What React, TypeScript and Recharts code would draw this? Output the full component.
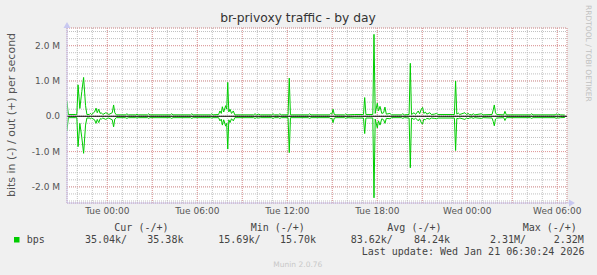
import { ComposedChart, Line, XAxis, YAxis, CartesianGrid, ReferenceLine } from 'recharts'

// ── Data (hours relative to Tue 00:00, values in Mbit/s) ─────────────────────

const hours = [
  -2.69, -2.6, -2.1, -2.03, -1.95, -1.83, -1.7, -1.58, -1.45, -1.36,
  -1.2, -1.13, -1.05, -0.85, -0.75, -0.67, -0.57, -0.48, -0.4, -0.3,
  -0.1, 0.0, 0.1, 0.33, 0.42, 0.5, 0.6, 1.2, 1.31, 1.4,
  1.9, 1.98, 2.06, 2.68, 2.76, 2.84, 4.2, 4.29, 4.38, 5.55,
  5.63, 5.72, 6.88, 6.96, 7.05, 7.42, 7.51, 7.6, 7.67, 7.76,
  7.89, 7.96, 8.03, 8.1, 8.18, 8.28, 8.4, 8.5, 9.75, 9.85,
  9.95, 10.1, 10.2, 10.95, 11.05, 11.15, 11.42, 11.5, 11.6, 12.05,
  12.13, 12.21, 13.4, 13.49, 13.58, 14.8, 14.9, 14.97, 15.05, 15.13,
  15.25, 15.82, 15.9, 15.98, 16.5, 17.08, 17.16, 17.24, 17.7, 17.78,
  17.86, 18.0, 18.08, 18.18, 18.3, 18.42, 18.51, 18.6, 18.84, 18.95,
  19.6, 19.7, 19.8, 20.12, 20.2, 20.28, 20.45, 20.55, 20.73, 20.82,
  20.95, 21.02, 21.1, 21.2, 21.3, 21.5, 21.6, 21.8, 21.95, 22.05,
  23.14, 23.22, 23.3, 23.4, 23.5, 23.84, 23.95, 24.05, 24.15, 24.3,
  24.4, 24.5, 24.95, 25.05, 25.65, 25.73, 25.8, 25.88, 25.96, 26.43,
  26.51, 26.6, 28.2, 28.29, 28.38, 29.85, 29.92, 30.0, 30.1, 30.2,
  30.5,
]

const outMbps = [
  0.43, 0.05, 0.05, 0.05, 0.89, 0.22, 0.7, 1.1, 0.3, 0.05,
  0.05, 0.08, 0.05, 0.12, 0.23, 0.1, 0.2, 0.08, 0.1, 0.05,
  0.1, 0.08, 0.05, 0.1, 0.32, 0.1, 0.04, 0.04, 0.07, 0.04,
  0.04, 0.06, 0.04, 0.04, 0.07, 0.04, 0.04, 0.07, 0.04, 0.04,
  0.07, 0.04, 0.04, 0.07, 0.04, 0.05, 0.15, 0.08, 0.27, 0.12,
  0.3, 0.2, 0.96, 0.12, 0.2, 0.08, 0.15, 0.04, 0.04, 0.07,
  0.04, 0.06, 0.04, 0.04, 0.07, 0.04, 0.04, 0.07, 0.04, 0.04,
  1.08, 0.04, 0.04, 0.07, 0.04, 0.04, 0.08, 0.06, 0.2, 0.05,
  0.04, 0.04, 0.07, 0.04, 0.05, 0.05, 0.53, 0.05, 0.05, 2.32,
  0.08, 0.37, 0.15, 0.28, 0.08, 0.1, 0.26, 0.06, 0.08, 0.04,
  0.04, 0.07, 0.04, 0.05, 1.5, 0.05, 0.1, 0.05, 0.15, 0.07,
  0.22, 0.25, 0.08, 0.12, 0.06, 0.1, 0.05, 0.06, 0.08, 0.05,
  0.05, 1.0, 0.06, 0.09, 0.05, 0.1, 0.05, 0.08, 0.05, 0.04,
  0.07, 0.04, 0.07, 0.04, 0.05, 0.18, 0.32, 0.1, 0.05, 0.04,
  0.14, 0.04, 0.04, 0.07, 0.04, 0.04, 0.07, 0.04, 0.06, 0.04,
  0.035,
]

const inMbps = [
  0.42, 0.04, 0.04, 0.04, 0.86, 0.2, 0.6, 1.05, 0.25, 0.05,
  0.05, 0.07, 0.05, 0.1, 0.2, 0.09, 0.18, 0.07, 0.08, 0.05,
  0.09, 0.06, 0.05, 0.1, 0.3, 0.08, 0.04, 0.04, 0.06, 0.04,
  0.04, 0.05, 0.04, 0.04, 0.06, 0.04, 0.04, 0.06, 0.04, 0.04,
  0.06, 0.04, 0.04, 0.05, 0.04, 0.04, 0.13, 0.08, 0.25, 0.1,
  0.28, 0.2, 0.93, 0.1, 0.18, 0.07, 0.13, 0.04, 0.04, 0.06,
  0.04, 0.05, 0.04, 0.04, 0.06, 0.04, 0.04, 0.06, 0.04, 0.04,
  1.03, 0.04, 0.04, 0.06, 0.04, 0.04, 0.07, 0.06, 0.18, 0.05,
  0.04, 0.04, 0.06, 0.04, 0.05, 0.05, 0.49, 0.05, 0.05, 2.31,
  0.08, 0.33, 0.13, 0.25, 0.07, 0.1, 0.2, 0.06, 0.07, 0.04,
  0.04, 0.06, 0.04, 0.05, 1.46, 0.05, 0.09, 0.05, 0.13, 0.07,
  0.2, 0.22, 0.08, 0.1, 0.06, 0.08, 0.05, 0.06, 0.07, 0.05,
  0.05, 0.97, 0.06, 0.07, 0.05, 0.09, 0.05, 0.07, 0.05, 0.04,
  0.06, 0.04, 0.06, 0.04, 0.05, 0.15, 0.27, 0.08, 0.05, 0.04,
  0.12, 0.04, 0.04, 0.06, 0.04, 0.04, 0.06, 0.04, 0.05, 0.04,
  0.035,
]

const X_TICKS  = [0, 6, 12, 18, 24, 30]
const X_LABELS = ['Tue 00:00', 'Tue 06:00', 'Tue 12:00', 'Tue 18:00', 'Wed 00:00', 'Wed 06:00']
const Y_TICKS  = [-2, -1, 0, 1, 2]
const Y_LABELS = ['-2.0 M', '-1.0 M', '0.0', '1.0 M', '2.0 M']

const LEGEND_HEADERS = ['Cur (-/+)', 'Min (-/+)', 'Avg (-/+)', 'Max (-/+)']
const LEGEND_VALUES  = ['35.04k/', '35.38k', '15.69k/', '15.70k', '83.62k/', '84.24k', '2.31M/', '2.32M']

// ── Layout ───────────────────────────────────────────────────────────────────

const W = 597
const H = 275
const X_DOMAIN: [number, number] = [-2.687, 30.647]
const Y_DOMAIN: [number, number] = [-2.457, 2.5]
const MINOR_X = Array.from({ length: 33 }, (_, i) => i - 2)
const MAJOR_X = [0, 3, 6, 9, 12, 15, 18, 21, 24, 27, 30]
const MINOR_Y = Array.from({ length: 25 }, (_, i) => Math.round((i * 0.2 - 2.4) * 10) / 10)

const GREEN = '#00cc00'
const AXIS  = '#c8c8f0'
const FONT  = 'DejaVu Sans, sans-serif'
const MONO  = 'DejaVu Sans Mono, monospace'
const TICK  = { fontSize: 9, fill: '#555', fontFamily: FONT }

const HEADER_X = [114.3, 250.7, 387.3, 522.7]
const VALUE_X  = [85, 147.3, 218.3, 280, 350.7, 414, 490, 553.7]

function ArrowRight(props: any) {
  const { x, y, width } = props.viewBox
  const e = x + width
  return (
    <g>
      <line x1={e} y1={y} x2={e + 3} y2={y} stroke={AXIS} />
      <path d={`M${e + 2},${y - 3.5} L${e + 8},${y} L${e + 2},${y + 3.5} Z`} fill={AXIS} />
    </g>
  )
}

function ArrowUp(props: any) {
  const { x, y, width } = props.viewBox
  const a = x + width
  return <path d={`M${a - 3.5},${y} L${a},${y - 6} L${a + 3.5},${y} Z`} fill={AXIS} />
}

export default function App() {
  const data = hours.map((t, i) => ({ t, out: outMbps[i], in: -inMbps[i] }))

  return (
    <div style={{ position: 'absolute', left: 0, top: 0, width: W, height: H, background: '#f0f0f0' }}>
      <ComposedChart width={W} height={H} data={data} margin={{ top: 28, right: 30, bottom: 52, left: 7 }}>
        <XAxis xAxisId="minor" dataKey="t" type="number" domain={X_DOMAIN} ticks={MINOR_X} interval={0} allowDataOverflow hide />
        <XAxis xAxisId="major" dataKey="t" type="number" domain={X_DOMAIN} ticks={MAJOR_X} interval={0} allowDataOverflow hide />
        <YAxis yAxisId="minor" type="number" domain={Y_DOMAIN} ticks={MINOR_Y} interval={0} allowDataOverflow hide />
        <YAxis yAxisId="major" type="number" domain={Y_DOMAIN} ticks={Y_TICKS} interval={0} allowDataOverflow hide />
        <CartesianGrid xAxisId="minor" yAxisId="minor" stroke="#c0c0c0" strokeDasharray="1 1" fill="#ffffff" />
        <CartesianGrid xAxisId="major" yAxisId="major" stroke="#e39a9a" strokeDasharray="1 1" />
        <XAxis
          xAxisId="main" dataKey="t" type="number" domain={X_DOMAIN} ticks={X_TICKS} interval={0}
          allowDataOverflow height={20} tick={TICK} tickSize={0} tickMargin={5}
          axisLine={{ stroke: AXIS }} tickLine={false}
          tickFormatter={(v: number) => X_LABELS[X_TICKS.indexOf(v)] ?? ''}
          label={{ content: ArrowRight }}
        />
        <YAxis
          yAxisId="main" type="number" domain={Y_DOMAIN} ticks={Y_TICKS} interval={0}
          allowDataOverflow width={60} tick={TICK} tickSize={0} tickMargin={7}
          axisLine={{ stroke: AXIS }} tickLine={false}
          tickFormatter={(v: number) => Y_LABELS[Y_TICKS.indexOf(v)] ?? ''}
          label={{ content: ArrowUp }}
        />
        <Line xAxisId="main" yAxisId="main" type="linear" dataKey="out" stroke={GREEN} strokeWidth={1} dot={false} isAnimationActive={false} />
        <Line xAxisId="main" yAxisId="main" type="linear" dataKey="in" stroke={GREEN} strokeWidth={1} dot={false} isAnimationActive={false} />
        <ReferenceLine xAxisId="main" yAxisId="main" y={0} stroke="#000" strokeWidth={1} />
      </ComposedChart>

      <svg width={W} height={H} style={{ position: 'absolute', left: 0, top: 0, pointerEvents: 'none' }}>
        <text x={298} y={18} textAnchor="middle" dominantBaseline="central" fontFamily={FONT} fontSize={12.3} fill="#333">
          br-privoxy traffic - by day
        </text>
        <text transform="translate(11,115) rotate(-90)" textAnchor="middle" dominantBaseline="central" fontFamily={FONT} fontSize={11} fill="#555">
          bits in (-) / out (+) per second
        </text>
        <text transform="translate(588,5) rotate(90)" textAnchor="start" dominantBaseline="central" fontFamily={FONT} fontSize={7.5} fill="#c0c0c0">
          RRDTOOL / TOBI OETIKER
        </text>
        {LEGEND_HEADERS.map((h, i) => (
          <text key={h} x={HEADER_X[i]} y={227.7} dominantBaseline="central" fontFamily={MONO} fontSize={10} fill="#444">{h}</text>
        ))}
        <rect x={14} y={237} width={5.5} height={5.5} fill={GREEN} />
        <text x={26.7} y={239.7} dominantBaseline="central" fontFamily={MONO} fontSize={10} fill="#444">bps</text>
        {LEGEND_VALUES.map((v, i) => (
          <text key={i} x={VALUE_X[i]} y={239.7} dominantBaseline="central" fontFamily={MONO} fontSize={10} fill="#444">{v}</text>
        ))}
        <text x={361.7} y={251} dominantBaseline="central" fontFamily={MONO} fontSize={10} fill="#444">
          Last update: Wed Jan 21 06:30:24 2026
        </text>
        <text x={273.3} y={264.3} dominantBaseline="central" fontFamily={FONT} fontSize={7.5} fill="#c8c8c8">
          Munin 2.0.76
        </text>
      </svg>
    </div>
  )
}
